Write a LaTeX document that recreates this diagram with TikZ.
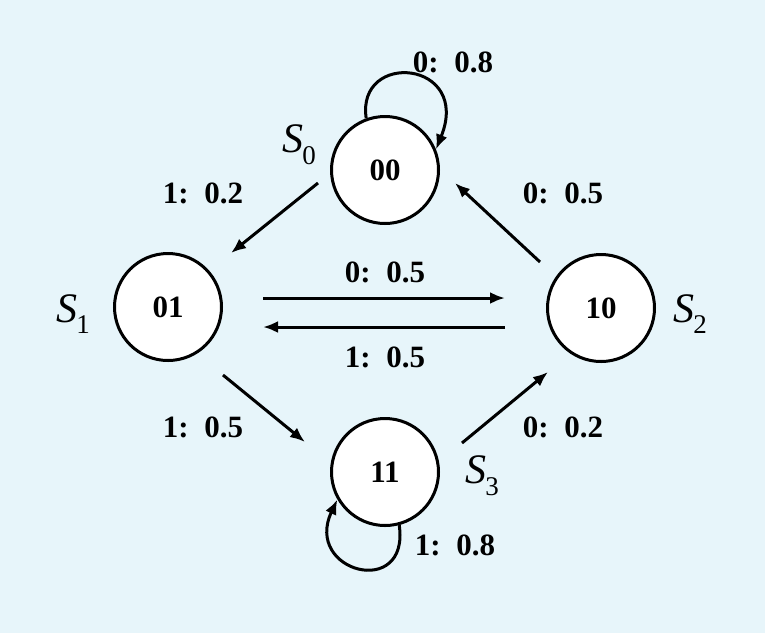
\documentclass[tikz,border=0pt]{standalone}
\usepackage{fontspec}
\setmainfont{Liberation Serif}
\usetikzlibrary{arrows.meta,calc}
\definecolor{bgc}{HTML}{E7F5FA}
\newcommand{\stlab}[1]{\textit{S}\kern-0.02em\raisebox{-0.28em}{\fontsize{27}{30}\selectfont #1}}
\begin{document}
\begin{tikzpicture}[x=1pt,y=1pt,
  state/.style={circle,draw,line width=3pt,fill=white,minimum size=107pt,inner sep=0pt,font=\fontsize{31}{34}\selectfont\bfseries},
  edge/.style={line width=3pt,-{Latex[length=15pt,width=12pt]}},
  lab/.style={font=\fontsize{31}{34}\selectfont\bfseries,inner sep=0pt},
  slab/.style={font=\fontsize{42}{46}\selectfont,inner sep=0pt}]
\fill[bgc] (0,0) rectangle (765,-633);
\useasboundingbox (0,0) rectangle (765,-633);
\node[state] (s0) at (385,-170) {00};
\node[state] (s1) at (168,-307) {01};
\node[state] (s2) at (601,-308) {10};
\node[state] (s3) at (385,-472) {11};
\node[slab] (n0) at (299,-145) {\stlab{0}};
\node[slab] (n1) at (73,-314) {\stlab{1}};
\node[slab] (n2) at (690,-314) {\stlab{2}};
\node[slab] (n3) at (482,-476) {\stlab{3}};
\draw[edge] ($(s0)+(-67,-13)$) -- ($(s1)+(63,54)$);
\draw[edge] ($(s2)+(-61,46)$) -- ($(s0)+(70,-13)$);
\draw[edge] ($(s1)+(95,9)$) -- ($(s2)+(-96,10)$);
\draw[edge] ($(s2)+(-96,-19)$) -- ($(s1)+(95,-20)$);
\draw[edge] ($(s1)+(55,-68)$) -- ($(s3)+(-80,30)$);
\draw[edge] ($(s3)+(77,29)$) -- ($(s2)+(-53,-64)$);
\draw[edge] (s0.110) .. controls (356,-50) and (472,-60) .. (s0.22);
\draw[edge] (s3.-75) .. controls (410,-600) and (303,-572) .. (s3.210);
\node[lab] (l1) at (203,-193) {1:\hspace{0.5em}0.2};
\node[lab] (l2) at (563,-193) {0:\hspace{0.5em}0.5};
\node[lab] (l3) at (385,-272) {0:\hspace{0.5em}0.5};
\node[lab] (l4) at (385,-357) {1:\hspace{0.5em}0.5};
\node[lab] (l5) at (203,-427) {1:\hspace{0.5em}0.5};
\node[lab] (l6) at (563,-427) {0:\hspace{0.5em}0.2};
\node[lab] (l7) at (453,-62) {0:\hspace{0.5em}0.8};
\node[lab] (l8) at (455,-545) {1:\hspace{0.5em}0.8};
\end{tikzpicture}
\end{document}
